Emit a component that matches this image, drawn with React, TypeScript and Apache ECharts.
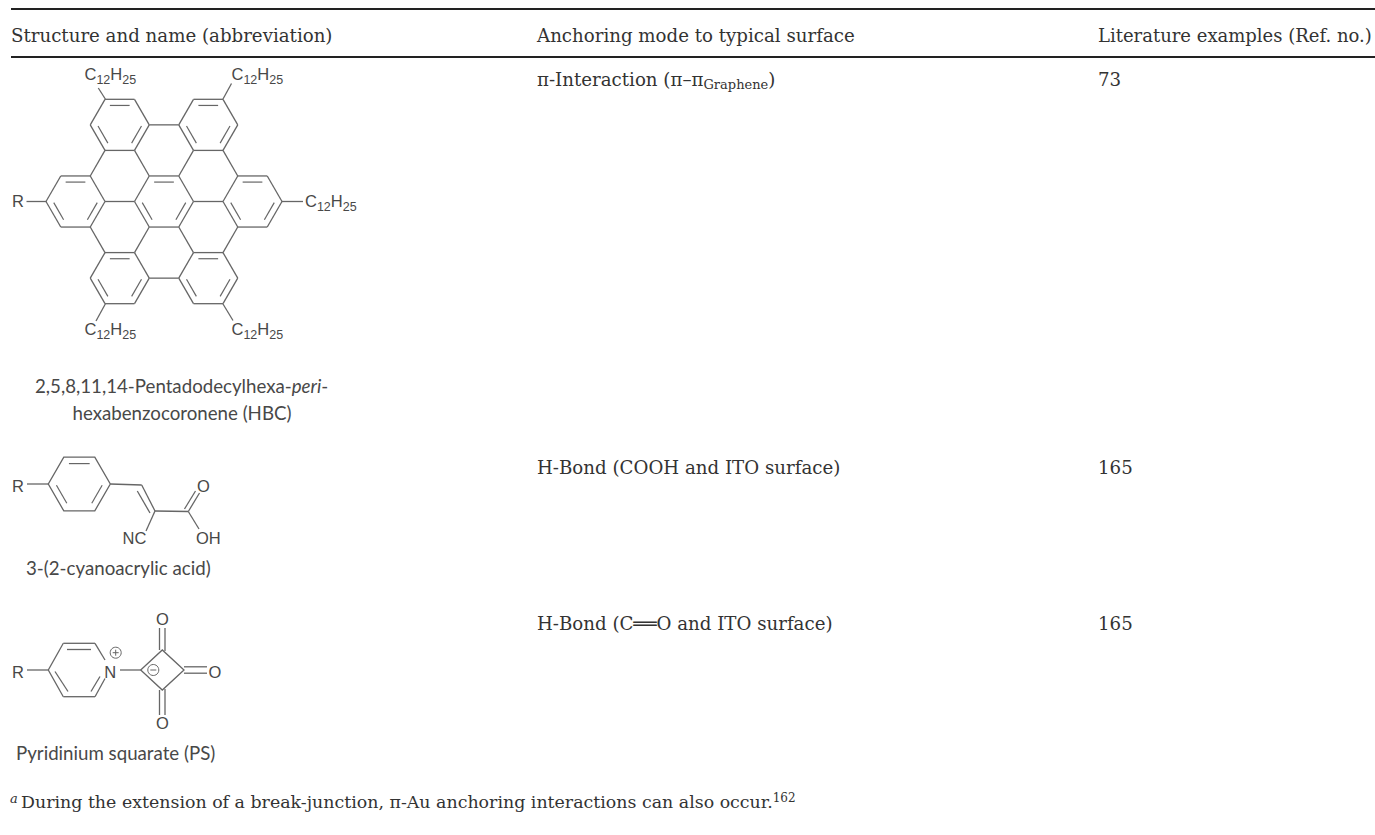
import React, { useEffect, useRef } from "react";
import * as echarts from "echarts";

const columnHeaders = ["Structure and name (abbreviation)", "Anchoring mode to typical surface", "Literature examples (Ref. no.)"];
const refNumbers = ["73", "165", "165"];
const hbcNameLines = ["2,5,8,11,14-Pentadodecylhexa-", "peri", "-", "hexabenzocoronene (HBC)"];
const cyanoName = "3-(2-cyanoacrylic acid)";
const squarateName = "Pyridinium squarate (PS)";
const modePi = ["π-Interaction (π–π", "Graphene", ")"];
const modeCooh = "H-Bond (COOH and ITO surface)";
const modeCO = ["H-Bond (C", "═", "O and ITO surface)"];
const footnote = ["a", "During the extension of a break-junction, π-Au anchoring interactions can also occur.", "162"];
const alkyl = ["C", "12", "H", "25"];

const SERIF = "'DejaVu Serif'";
const SANS = "'Liberation Sans'";
const LATO = "Lato";
const INK = "#333333";
const BOND = "#666666";
const LABEL = "#484848";
const CENTRAL: Record<string, number> = { [SERIF]: 0.35, [SANS]: 0.3465, [LATO]: 0.387 };

const ctx = document.createElement("canvas").getContext("2d")!;
function widthOf(t: string, font: string) {
  ctx.font = font;
  return ctx.measureText(t).width;
}

type Run = { t: string; size: number; dy?: number; italic?: boolean; family?: string; sx?: number };

function runs(x: number, baseline: number, list: Run[], family: string, fill: string, sx = 1) {
  let cx = x;
  const out: any[] = [];
  list.forEach((r) => {
    const fam = r.family || family;
    const style = r.italic ? "italic" : "normal";
    const w = widthOf(r.t, `${style} ${r.size}px ${fam}`);
    const s = (r.sx || 1) * sx;
    out.push({
      type: "text",
      x: cx,
      y: baseline + (r.dy || 0) - r.size * CENTRAL[fam],
      scaleX: s,
      silent: true,
      style: { text: r.t, fill, fontFamily: fam, fontSize: r.size, fontStyle: style, verticalAlign: "middle", align: "left" },
    });
    cx += w * s;
  });
  return out;
}

function line(x1: number, y1: number, x2: number, y2: number, w = 1.3, color = BOND) {
  return { type: "line", silent: true, shape: { x1, y1, x2, y2 }, style: { stroke: color, lineWidth: w } };
}

function hexPts(cx: number, cy: number, r: number) {
  const h = r * 0.866;
  return [
    [cx - r / 2, cy - h],
    [cx + r / 2, cy - h],
    [cx + r, cy],
    [cx + r / 2, cy + h],
    [cx - r / 2, cy + h],
    [cx - r, cy],
  ];
}

function hexOutline(cx: number, cy: number, r: number) {
  return { type: "polygon", silent: true, shape: { points: hexPts(cx, cy, r) }, style: { fill: "none", stroke: BOND, lineWidth: 1.3 } };
}

// top, lower-right, lower-left edges carry the inner double-bond stroke
function innerBonds(cx: number, cy: number, r: number) {
  const p = hexPts(cx, cy, r);
  const out: any[] = [];
  [[0, 1], [2, 3], [4, 5]].forEach(([a, b]) => {
    const f = 0.24;
    const ax = p[a][0] + (cx - p[a][0]) * f, ay = p[a][1] + (cy - p[a][1]) * f;
    const bx = p[b][0] + (cx - p[b][0]) * f, by = p[b][1] + (cy - p[b][1]) * f;
    const t = 0.06;
    out.push(line(ax + (bx - ax) * t, ay + (by - ay) * t, bx - (bx - ax) * t, by - (by - ay) * t, 1.2));
  });
  return out;
}

function hbc() {
  const cx = 164, cy = 201.5, r = 29.5;
  const dx = 1.5 * r, dy = 0.866 * r;
  const rings = [[0, 0], [-2, 0], [2, 0], [-1, -3], [1, -3], [-1, 3], [1, 3]];
  const voids = [[0, -2], [0, 2], [-1, -1], [1, -1], [-1, 1], [1, 1]];
  const out: any[] = [];
  // every lattice edge is drawn once, so shared bonds do not get darker
  const seen = new Set<string>();
  [...rings, ...voids].forEach(([i, j]) => {
    const p = hexPts(cx + i * dx, cy + j * dy, r);
    p.forEach((a, k) => {
      const b = p[(k + 1) % 6];
      const ka = `${Math.round(a[0])},${Math.round(a[1])}`;
      const kb = `${Math.round(b[0])},${Math.round(b[1])}`;
      const key = ka < kb ? ka + "|" + kb : kb + "|" + ka;
      if (seen.has(key)) return;
      seen.add(key);
      out.push(line(a[0], a[1], b[0], b[1]));
    });
  });
  rings.forEach(([i, j]) => out.push(...innerBonds(cx + i * dx, cy + j * dy, r)));
  out.push(line(98.3, 88, 105.3, 99));
  out.push(line(231.5, 83.5, 223, 99));
  out.push(line(26.5, 201.5, 46.7, 201.5));
  out.push(line(281.5, 201.5, 303, 201.5));
  out.push(line(96, 321, 105.3, 304));
  out.push(line(233, 320.5, 223, 304));
  const lbl = (x: number, b: number) =>
    runs(x, b, [
      { t: alkyl[0], size: 16.5 }, { t: alkyl[1], size: 12.5, dy: 4 }, { t: alkyl[2], size: 16.5 }, { t: alkyl[3], size: 12.5, dy: 4 },
    ], SANS, LABEL);
  out.push(...lbl(84.5, 80), ...lbl(231.5, 80), ...lbl(305, 207), ...lbl(84.5, 335), ...lbl(231.5, 335));
  out.push(...runs(12, 207, [{ t: "R", size: 16.5 }], SANS, LABEL));
  return out;
}

function cyano() {
  const out: any[] = [];
  out.push(hexOutline(79.3, 484, 31));
  out.push(...innerBonds(79.3, 484, 31));
  out.push(line(27, 484, 48.3, 484));
  out.push(line(110.3, 484, 141.7, 485));
  out.push(line(141.7, 485, 155, 511));
  out.push(line(137.3, 491, 150, 513));
  out.push(line(155, 511, 188.3, 511.5));
  out.push(line(188.3, 511.5, 199.5, 493));
  out.push(line(184.5, 509, 195.5, 491));
  out.push(line(188.3, 511.5, 199, 529));
  out.push(line(155, 511, 146, 531));
  out.push(...runs(12, 491.5, [{ t: "R", size: 16.5 }], SANS, LABEL));
  out.push(...runs(197, 491.5, [{ t: "O", size: 16.5 }], SANS, LABEL));
  out.push(...runs(122.5, 544, [{ t: "NC", size: 16.5 }], SANS, LABEL));
  out.push(...runs(196, 544, [{ t: "OH", size: 16.5 }], SANS, LABEL));
  return out;
}

function squarate() {
  const out: any[] = [];
  out.push(line(105, 660, 95, 643.3));
  out.push(line(95, 643.3, 63.3, 643.3));
  out.push(line(63.3, 643.3, 48.3, 670));
  out.push(line(48.3, 670, 63.3, 696.7));
  out.push(line(63.3, 696.7, 95, 696.7));
  out.push(line(95, 696.7, 105, 678.5));
  out.push(line(67, 649.5, 91, 649.5));
  out.push(line(55, 671.5, 68, 691.5));
  out.push(line(91, 691.5, 100, 676.5));
  out.push(line(27, 670, 48.3, 670));
  out.push(line(120, 670, 140.7, 670));
  out.push({ type: "polygon", silent: true, shape: { points: [[140.7, 670], [162.3, 650], [184, 670], [162.3, 690]] }, style: { fill: "none", stroke: BOND, lineWidth: 1.3 } });
  out.push(line(159.5, 628, 159.5, 650), line(165, 628, 165, 651));
  out.push(line(159.5, 690, 159.5, 715), line(165, 689, 165, 715));
  out.push(line(184, 666.8, 207, 666.8), line(184, 673.2, 207, 673.2));
  out.push({ type: "circle", silent: true, shape: { cx: 115.7, cy: 652.7, r: 5.5 }, style: { fill: "#ffffff", stroke: BOND, lineWidth: 1 } });
  out.push({ type: "circle", silent: true, shape: { cx: 153.3, cy: 670, r: 5.5 }, style: { fill: "#ffffff", stroke: BOND, lineWidth: 1 } });
  out.push(line(112.7, 652.7, 118.7, 652.7, 1), line(115.7, 649.7, 115.7, 655.7, 1));
  out.push(line(150.3, 670, 156.3, 670, 1));
  out.push(...runs(12, 677.3, [{ t: "R", size: 16.5 }], SANS, LABEL));
  out.push(...runs(104.2, 677.3, [{ t: "N", size: 16.5 }], SANS, LABEL));
  out.push(...runs(156, 625, [{ t: "O", size: 16.5 }], SANS, LABEL));
  out.push(...runs(208.5, 677.3, [{ t: "O", size: 16.5 }], SANS, LABEL));
  out.push(...runs(156, 729, [{ t: "O", size: 16.5 }], SANS, LABEL));
  return out;
}

function table() {
  const T = 18.2;
  const C = 18.7;
  const out: any[] = [];
  out.push(line(11, 9, 1375, 9, 2, "#222222"), line(11, 57, 1375, 57, 2, "#222222"));
  const colX = [11, 537, 1098];
  columnHeaders.forEach((h, i) => out.push(...runs(colX[i], 41.5, [{ t: h, size: i === 2 ? 18 : T }], SERIF, INK)));
  out.push(...runs(537, 86, [{ t: modePi[0], size: T }, { t: modePi[1], size: 13, dy: 3 }, { t: modePi[2], size: T }], SERIF, INK));
  out.push(...runs(537, 474, [{ t: modeCooh, size: T }], SERIF, INK));
  out.push(...runs(537, 629.5, [{ t: modeCO[0], size: T }, { t: modeCO[1], size: T, sx: 2.1 }, { t: modeCO[2], size: T }], SERIF, INK));
  const rowB = [86, 474, 629.5];
  refNumbers.forEach((n, i) => out.push(...runs(1098, rowB[i], [{ t: n, size: T }], SERIF, INK)));
  out.push(...runs(35, 393, [{ t: hbcNameLines[0], size: C }, { t: hbcNameLines[1], size: C, italic: true }, { t: hbcNameLines[2], size: C }], LATO, LABEL));
  out.push(...runs(72.5, 420.5, [{ t: hbcNameLines[3], size: C }], LATO, LABEL));
  out.push(...runs(26, 575, [{ t: cyanoName, size: C }], LATO, LABEL));
  out.push(...runs(16, 760, [{ t: squarateName, size: C }], LATO, LABEL));
  out.push(...runs(10, 803, [{ t: footnote[0], size: 13, italic: true }], SERIF, INK));
  out.push(...runs(21, 808, [{ t: footnote[1], size: 17.4 }, { t: footnote[2], size: 12, dy: -6 }], SERIF, INK));
  return out;
}

export default function App() {
  const ref = useRef<HTMLDivElement>(null);
  useEffect(() => {
    const chart = echarts.init(ref.current!, undefined, { renderer: "svg" });
    chart.setOption({
      animation: false,
      backgroundColor: "#ffffff",
      graphic: { elements: [...table(), ...hbc(), ...cyano(), ...squarate()] },
    });
    return () => chart.dispose();
  }, []);
  return <div ref={ref} style={{ position: "absolute", left: 0, top: 0, width: 1375, height: 835 }} />;
}
